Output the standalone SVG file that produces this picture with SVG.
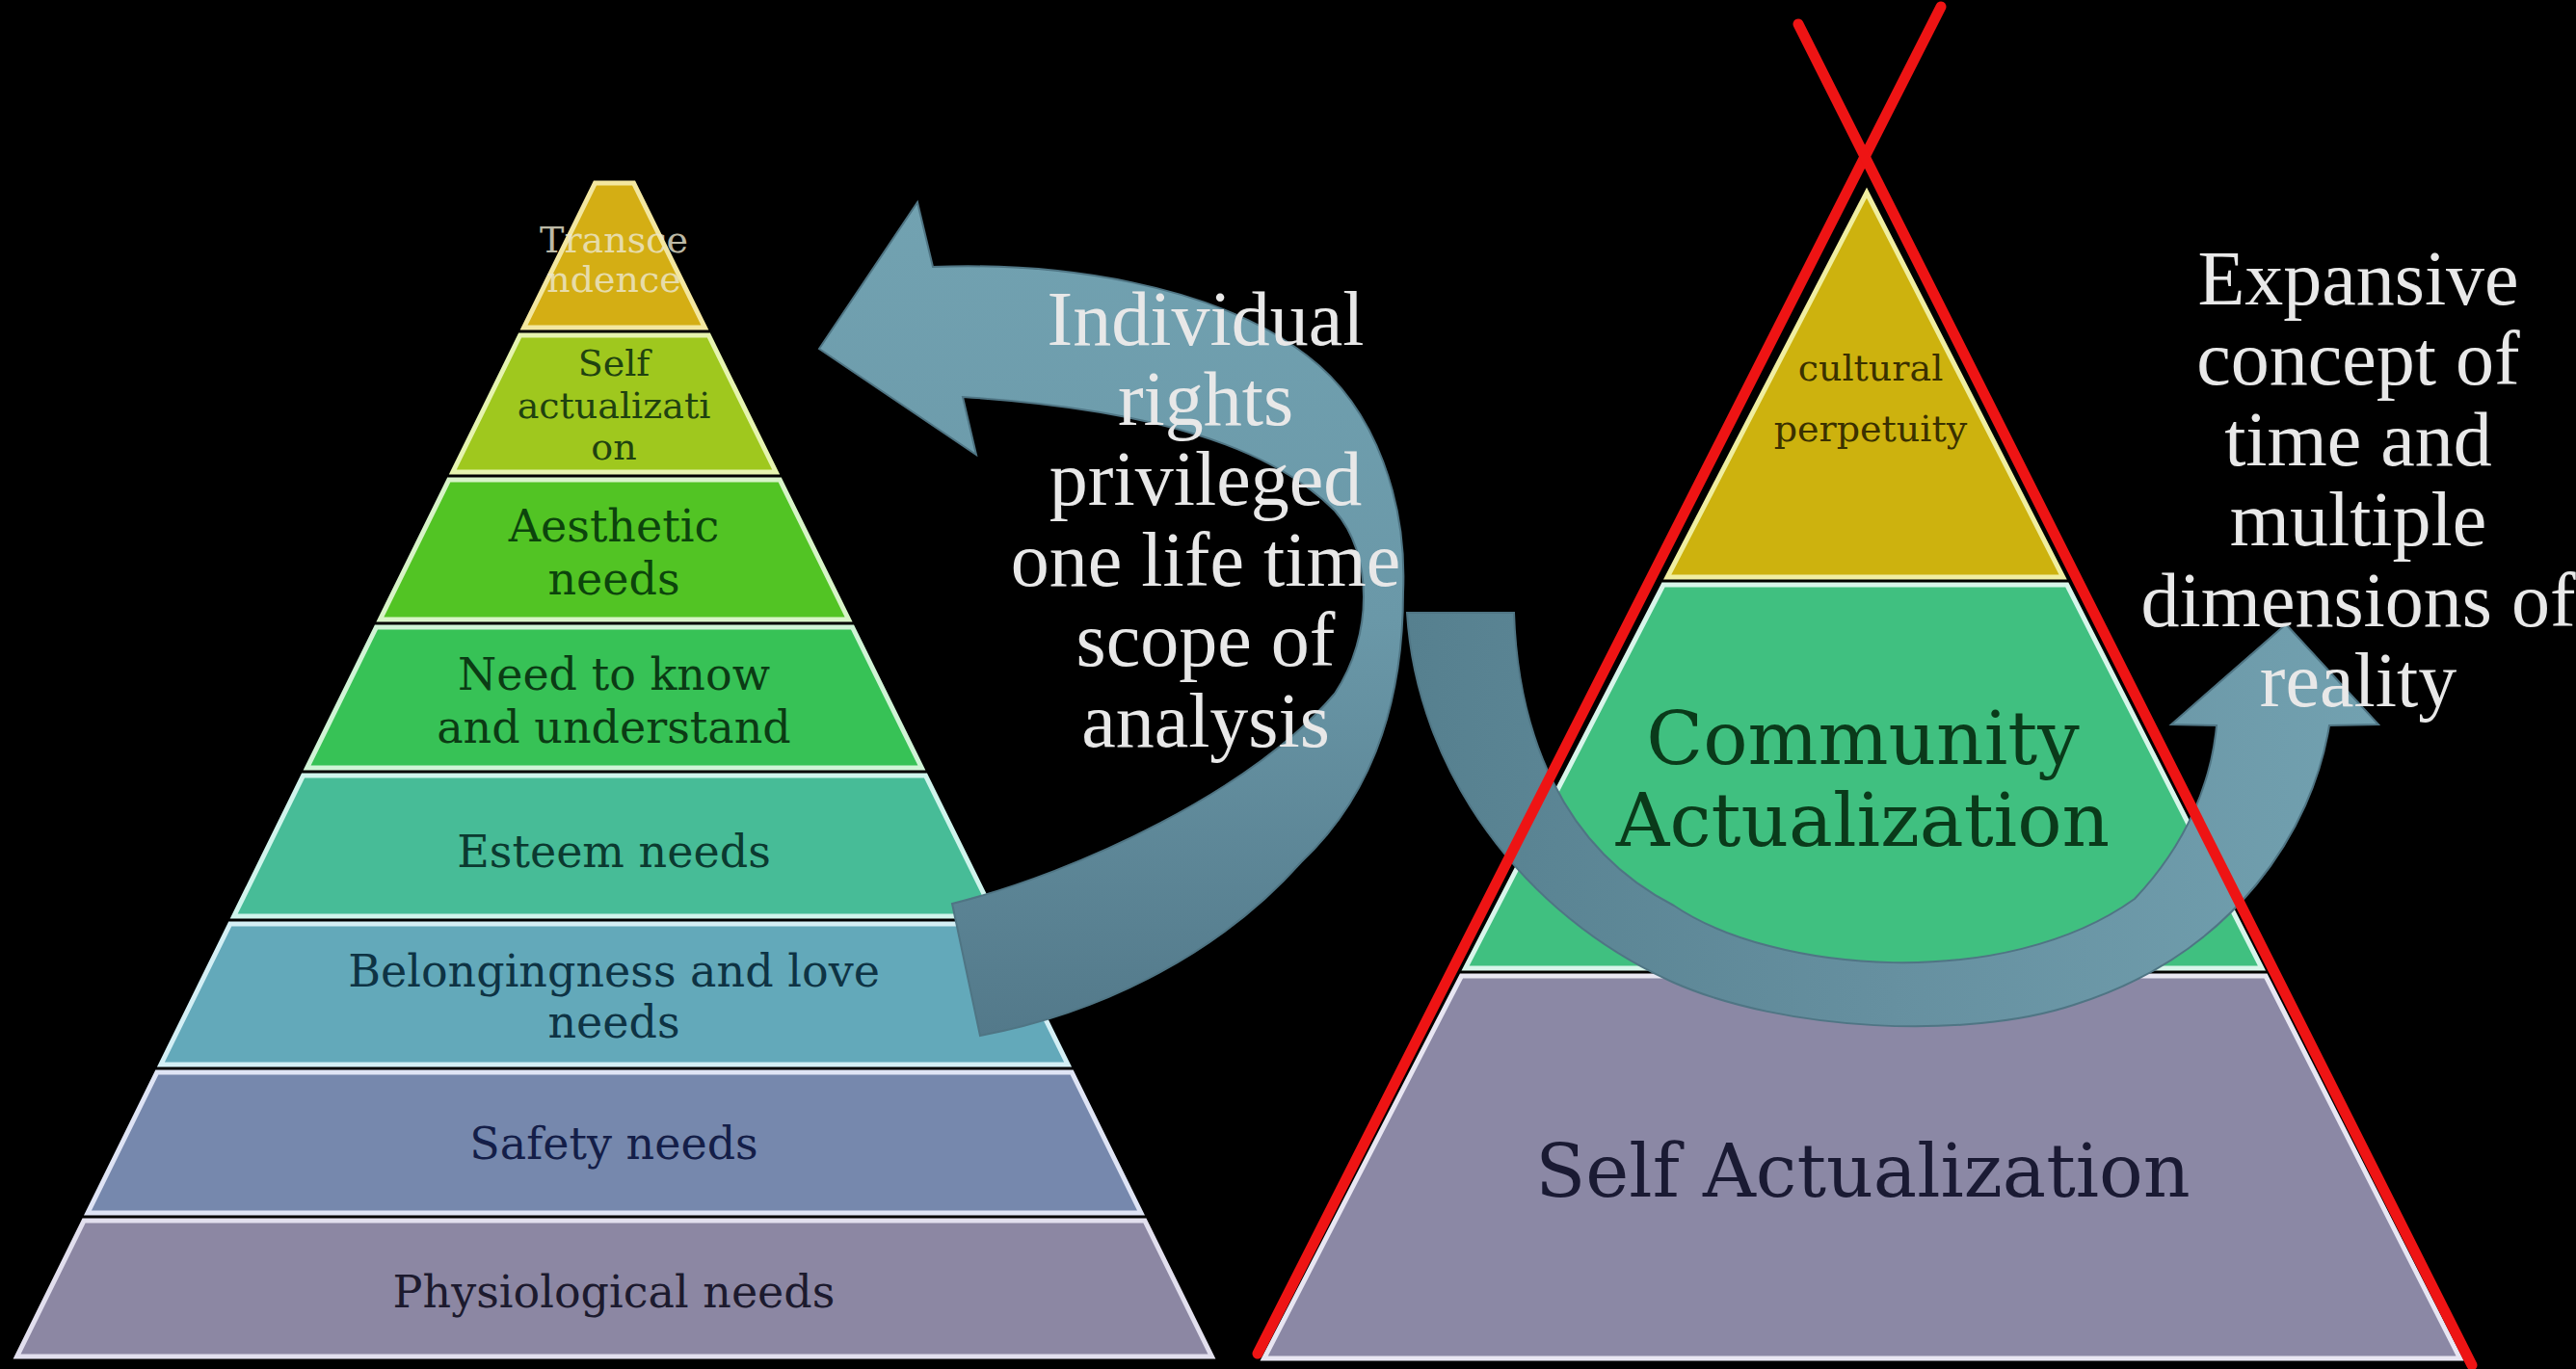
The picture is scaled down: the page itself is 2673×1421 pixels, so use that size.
<svg xmlns="http://www.w3.org/2000/svg" width="2673" height="1421" viewBox="0 0 2673 1421">
<style>
.lbl{font-family:"DejaVu Serif","Liberation Serif",serif;text-anchor:middle}
.side{font-family:"Liberation Serif","Times New Roman",serif;font-size:80px;text-anchor:middle;fill:#e8e8e8}
.tier{stroke-width:5;stroke-linejoin:miter}
.red{stroke:#ee1414;stroke-width:11;stroke-linecap:round;fill:none}
</style>
<defs>
<linearGradient id="g1" x1="0" y1="0" x2="0" y2="1">
<stop offset="0" stop-color="#72a2b1"/>
<stop offset="0.5" stop-color="#6a98a8"/>
<stop offset="1" stop-color="#53798a"/>
</linearGradient>
<linearGradient id="g2" x1="0" y1="0" x2="1" y2="0">
<stop offset="0" stop-color="#56808f"/>
<stop offset="0.5" stop-color="#6690a0"/>
<stop offset="1" stop-color="#72a1b0"/>
</linearGradient>
</defs>
<rect x="0" y="0" width="2673" height="1421" fill="#000"/>

<g id="left-pyramid">
<g id="tier-transcendence">
<polygon class="tier" points="617.5,190 657.5,190 731.4,340 543.6,340" fill="#d4ae14" stroke="#f3e7a0"/>
<text class="lbl" font-size="38" fill="#ece8d0" opacity="0.8" x="637" y="262">Transce</text>
<text class="lbl" font-size="38" fill="#ece8d0" opacity="0.8" x="637" y="303">ndence</text>
</g>
<g id="tier-self-actualization">
<polygon class="tier" points="539.7,348 735.3,348 805.2,490 469.8,490" fill="#9fc81e" stroke="#e6f4b0"/>
<text class="lbl" font-size="38" fill="#1f4210" x="637" y="390">Self</text>
<text class="lbl" font-size="38" fill="#1f4210" x="637" y="434">actualizati</text>
<text class="lbl" font-size="38" fill="#1f4210" x="637" y="477">on</text>
</g>
<g id="tier-aesthetic">
<polygon class="tier" points="465.8,498 809.2,498 880.6,643 394.4,643" fill="#52c424" stroke="#d8f4c8"/>
<text class="lbl" font-size="46" fill="#0c440c" x="637" y="562">Aesthetic</text>
<text class="lbl" font-size="46" fill="#0c440c" x="637" y="617">needs</text>
</g>
<g id="tier-know">
<polygon class="tier" points="390.5,651 884.5,651 956.4,797 318.6,797" fill="#37c256" stroke="#d0f4d6"/>
<text class="lbl" font-size="46" fill="#0b3b14" x="637" y="716">Need to know</text>
<text class="lbl" font-size="46" fill="#0b3b14" x="637" y="771">and understand</text>
</g>
<g id="tier-esteem">
<polygon class="tier" points="314.6,805 960.4,805 1032.3,951 242.7,951" fill="#47bc97" stroke="#d0f4ec"/>
<text class="lbl" font-size="46" fill="#0b3a30" x="637" y="900">Esteem needs</text>
</g>
<g id="tier-belonging">
<polygon class="tier" points="238.8,959 1036.2,959 1108.1,1105 166.9,1105" fill="#63a9ba" stroke="#d4eff5"/>
<text class="lbl" font-size="46" fill="#0e3344" x="637" y="1024">Belongingness and love</text>
<text class="lbl" font-size="46" fill="#0e3344" x="637" y="1077">needs</text>
</g>
<g id="tier-safety">
<polygon class="tier" points="162.9,1113 1112.1,1113 1184,1259 91,1259" fill="#7688ad" stroke="#dfe4f5"/>
<text class="lbl" font-size="46" fill="#141e48" x="637" y="1203">Safety needs</text>
</g>
<g id="tier-physiological">
<polygon class="tier" points="87.1,1267 1187.9,1267 1257.4,1408 17.6,1408" fill="#8c87a3" stroke="#e2dfee"/>
<text class="lbl" font-size="46" fill="#1c1a2e" x="637" y="1357">Physiological needs</text>
</g>
</g>

<g id="right-pyramid">
<g id="tier-cultural">
<polygon class="tier" points="1937,200 2140.7,599 1730.1,599" fill="#cdb20e" stroke="#f0eea0"/>
<text class="lbl" font-size="38" fill="#3a3000" x="1941" y="395">cultural</text>
<text class="lbl" font-size="38" fill="#3a3000" x="1941" y="458">perpetuity</text>
</g>
<g id="tier-community">
<polygon class="tier" points="1726,607 2144.8,607 2347,1005 1520.6,1005" fill="#40c080" stroke="#d8f5ea"/>
<text class="lbl" font-size="77" fill="#0a3a1a" x="1933" y="793">Community</text>
<text class="lbl" font-size="77" fill="#0a3a1a" x="1933" y="878">Actualization</text>
</g>
<g id="tier-self">
<polygon class="tier" points="1516.5,1013 2351,1013 2552.7,1410 1311.6,1410" fill="#8b88a5" stroke="#e8e6f2"/>
<text class="lbl" font-size="76" fill="#1a1a33" x="1933" y="1242">Self Actualization</text>
</g>
</g>

<g id="connectors">
<path id="arrow-individual" d="M 850,362 L 952,210 L 968,277 C 1100,272 1260,295 1356,369 C 1430,425 1460,525 1456,615 C 1456,720 1430,820 1350,895 C 1270,985 1150,1050 1017,1075 L 988,938 C 1120,905 1300,820 1385,720 C 1425,660 1425,575 1385,530 C 1320,465 1200,425 999,412 L 1013,472 Z" fill="url(#g1)" stroke="#4f7584" stroke-width="2"/>
<path id="arrow-expansive" d="M 1460,636 L 1571,636 C 1575,760 1620,880 1737,940 C 1840,1010 2080,1030 2215,933 C 2270,875 2295,810 2300,753 L 2253,752 L 2372,648 L 2468,752 L 2417,753 C 2400,860 2320,990 2152,1043 C 2040,1080 1850,1070 1737,1020 C 1580,950 1470,800 1460,636 Z" fill="url(#g2)" stroke="#4f7584" stroke-width="2"/>
</g>

<g id="cross">
<line class="red" x1="2014" y1="7" x2="1305" y2="1405"/>
<line class="red" x1="1866" y1="25" x2="2565" y2="1417"/>
</g>

<g id="text-individual">
<text class="side" x="1251" y="358">Individual</text>
<text class="side" x="1251" y="441">rights</text>
<text class="side" x="1251" y="524">privileged</text>
<text class="side" x="1251" y="608">one life time</text>
<text class="side" x="1251" y="691">scope of</text>
<text class="side" x="1251" y="775">analysis</text>
</g>
<g id="text-expansive">
<text class="side" x="2447" y="316">Expansive</text>
<text class="side" x="2447" y="399">concept of</text>
<text class="side" x="2447" y="483">time and</text>
<text class="side" x="2447" y="566">multiple</text>
<text class="side" x="2447" y="650">dimensions of</text>
<text class="side" x="2447" y="733">reality</text>
</g>
</svg>
